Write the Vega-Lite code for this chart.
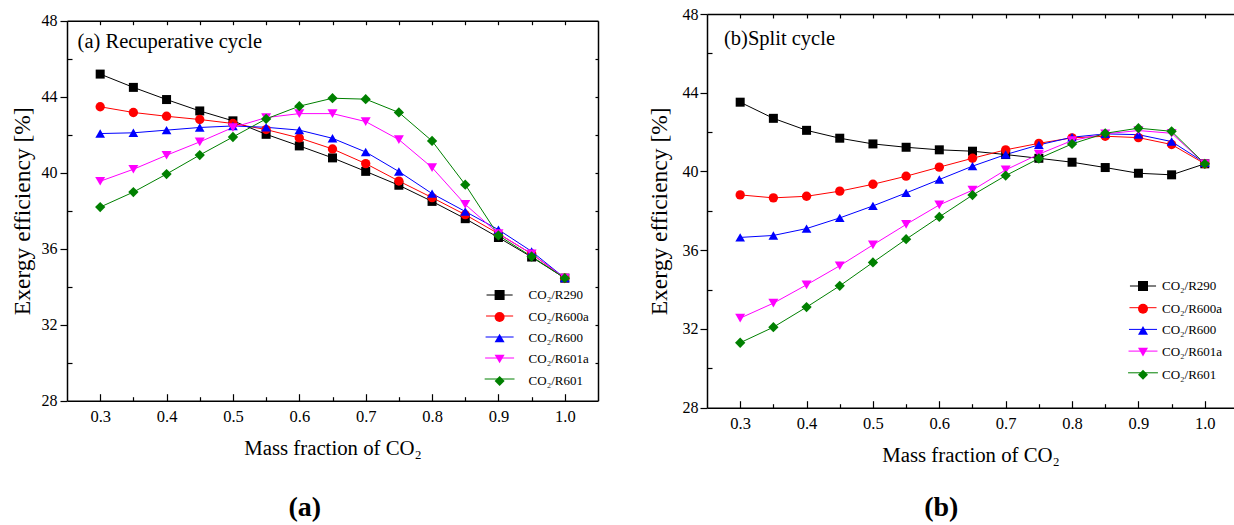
{
  "$schema": "https://vega.github.io/schema/vega-lite/v6.json",
  "background": "white",
  "padding": {"left": 10, "top": 6, "right": 0, "bottom": 0},
  "spacing": 48,
  "config": {
    "view": {"stroke": null},
    "font": "Liberation Serif",
    "axis": {"grid": false, "domainColor": "#000", "domainWidth": 1.5, "tickColor": "#000", "tickWidth": 1.2, "labelColor": "#000", "titleColor": "#000", "labelFont": "Liberation Serif", "titleFont": "Liberation Serif", "titleFontWeight": "normal", "labelFlush": false, "labelOverlap": false, "labelFontSize": 16, "titleFontSize": 20.8},
    "legend": {"labelFont": "Liberation Serif", "labelFontSize": 13, "labelColor": "#000", "labelLimit": 0}
  },
  "resolve": {"scale": {"stroke": "independent", "fill": "independent", "shape": "independent", "size": "independent"}, "legend": {"stroke": "independent", "fill": "independent", "shape": "independent"}},
  "datasets": {
    "d": [
      {"p": "a", "s": "CO₂/R290", "x": 0.3, "y": 45.19}, {"p": "a", "s": "CO₂/R290", "x": 0.35, "y": 44.49}, {"p": "a", "s": "CO₂/R290", "x": 0.4, "y": 43.85}, {"p": "a", "s": "CO₂/R290", "x": 0.45, "y": 43.25}, {"p": "a", "s": "CO₂/R290", "x": 0.5, "y": 42.73}, {"p": "a", "s": "CO₂/R290", "x": 0.55, "y": 42.02}, {"p": "a", "s": "CO₂/R290", "x": 0.6, "y": 41.41}, {"p": "a", "s": "CO₂/R290", "x": 0.65, "y": 40.78}, {"p": "a", "s": "CO₂/R290", "x": 0.7, "y": 40.07}, {"p": "a", "s": "CO₂/R290", "x": 0.75, "y": 39.34}, {"p": "a", "s": "CO₂/R290", "x": 0.8, "y": 38.49}, {"p": "a", "s": "CO₂/R290", "x": 0.85, "y": 37.58}, {"p": "a", "s": "CO₂/R290", "x": 0.9, "y": 36.59}, {"p": "a", "s": "CO₂/R290", "x": 0.95, "y": 35.56}, {"p": "a", "s": "CO₂/R290", "x": 1.0, "y": 34.45},
      {"p": "a", "s": "CO₂/R600a", "x": 0.3, "y": 43.47}, {"p": "a", "s": "CO₂/R600a", "x": 0.35, "y": 43.17}, {"p": "a", "s": "CO₂/R600a", "x": 0.4, "y": 42.97}, {"p": "a", "s": "CO₂/R600a", "x": 0.45, "y": 42.8}, {"p": "a", "s": "CO₂/R600a", "x": 0.5, "y": 42.59}, {"p": "a", "s": "CO₂/R600a", "x": 0.55, "y": 42.27}, {"p": "a", "s": "CO₂/R600a", "x": 0.6, "y": 41.83}, {"p": "a", "s": "CO₂/R600a", "x": 0.65, "y": 41.25}, {"p": "a", "s": "CO₂/R600a", "x": 0.7, "y": 40.48}, {"p": "a", "s": "CO₂/R600a", "x": 0.75, "y": 39.56}, {"p": "a", "s": "CO₂/R600a", "x": 0.8, "y": 38.69}, {"p": "a", "s": "CO₂/R600a", "x": 0.85, "y": 37.79}, {"p": "a", "s": "CO₂/R600a", "x": 0.9, "y": 36.79}, {"p": "a", "s": "CO₂/R600a", "x": 0.95, "y": 35.73}, {"p": "a", "s": "CO₂/R600a", "x": 1.0, "y": 34.45},
      {"p": "a", "s": "CO₂/R600", "x": 0.3, "y": 42.06}, {"p": "a", "s": "CO₂/R600", "x": 0.35, "y": 42.1}, {"p": "a", "s": "CO₂/R600", "x": 0.4, "y": 42.24}, {"p": "a", "s": "CO₂/R600", "x": 0.45, "y": 42.38}, {"p": "a", "s": "CO₂/R600", "x": 0.5, "y": 42.46}, {"p": "a", "s": "CO₂/R600", "x": 0.55, "y": 42.39}, {"p": "a", "s": "CO₂/R600", "x": 0.6, "y": 42.24}, {"p": "a", "s": "CO₂/R600", "x": 0.65, "y": 41.81}, {"p": "a", "s": "CO₂/R600", "x": 0.7, "y": 41.09}, {"p": "a", "s": "CO₂/R600", "x": 0.75, "y": 40.06}, {"p": "a", "s": "CO₂/R600", "x": 0.8, "y": 38.9}, {"p": "a", "s": "CO₂/R600", "x": 0.85, "y": 37.96}, {"p": "a", "s": "CO₂/R600", "x": 0.9, "y": 37.0}, {"p": "a", "s": "CO₂/R600", "x": 0.95, "y": 35.86}, {"p": "a", "s": "CO₂/R600", "x": 1.0, "y": 34.45},
      {"p": "a", "s": "CO₂/R601a", "x": 0.3, "y": 39.55}, {"p": "a", "s": "CO₂/R601a", "x": 0.35, "y": 40.18}, {"p": "a", "s": "CO₂/R601a", "x": 0.4, "y": 40.92}, {"p": "a", "s": "CO₂/R601a", "x": 0.45, "y": 41.62}, {"p": "a", "s": "CO₂/R601a", "x": 0.5, "y": 42.38}, {"p": "a", "s": "CO₂/R601a", "x": 0.55, "y": 42.9}, {"p": "a", "s": "CO₂/R601a", "x": 0.6, "y": 43.11}, {"p": "a", "s": "CO₂/R601a", "x": 0.65, "y": 43.11}, {"p": "a", "s": "CO₂/R601a", "x": 0.7, "y": 42.69}, {"p": "a", "s": "CO₂/R601a", "x": 0.75, "y": 41.74}, {"p": "a", "s": "CO₂/R601a", "x": 0.8, "y": 40.27}, {"p": "a", "s": "CO₂/R601a", "x": 0.85, "y": 38.33}, {"p": "a", "s": "CO₂/R601a", "x": 0.9, "y": 36.79}, {"p": "a", "s": "CO₂/R601a", "x": 0.95, "y": 35.73}, {"p": "a", "s": "CO₂/R601a", "x": 1.0, "y": 34.45},
      {"p": "a", "s": "CO₂/R601", "x": 0.3, "y": 38.19}, {"p": "a", "s": "CO₂/R601", "x": 0.35, "y": 38.98}, {"p": "a", "s": "CO₂/R601", "x": 0.4, "y": 39.93}, {"p": "a", "s": "CO₂/R601", "x": 0.45, "y": 40.93}, {"p": "a", "s": "CO₂/R601", "x": 0.5, "y": 41.88}, {"p": "a", "s": "CO₂/R601", "x": 0.55, "y": 42.83}, {"p": "a", "s": "CO₂/R601", "x": 0.6, "y": 43.5}, {"p": "a", "s": "CO₂/R601", "x": 0.65, "y": 43.92}, {"p": "a", "s": "CO₂/R601", "x": 0.7, "y": 43.87}, {"p": "a", "s": "CO₂/R601", "x": 0.75, "y": 43.17}, {"p": "a", "s": "CO₂/R601", "x": 0.8, "y": 41.67}, {"p": "a", "s": "CO₂/R601", "x": 0.85, "y": 39.37}, {"p": "a", "s": "CO₂/R601", "x": 0.9, "y": 36.7}, {"p": "a", "s": "CO₂/R601", "x": 0.95, "y": 35.59}, {"p": "a", "s": "CO₂/R601", "x": 1.0, "y": 34.45},
      {"p": "b", "s": "CO₂/R290", "x": 0.3, "y": 43.52}, {"p": "b", "s": "CO₂/R290", "x": 0.35, "y": 42.7}, {"p": "b", "s": "CO₂/R290", "x": 0.4, "y": 42.09}, {"p": "b", "s": "CO₂/R290", "x": 0.45, "y": 41.69}, {"p": "b", "s": "CO₂/R290", "x": 0.5, "y": 41.4}, {"p": "b", "s": "CO₂/R290", "x": 0.55, "y": 41.23}, {"p": "b", "s": "CO₂/R290", "x": 0.6, "y": 41.1}, {"p": "b", "s": "CO₂/R290", "x": 0.65, "y": 41.03}, {"p": "b", "s": "CO₂/R290", "x": 0.7, "y": 40.86}, {"p": "b", "s": "CO₂/R290", "x": 0.75, "y": 40.67}, {"p": "b", "s": "CO₂/R290", "x": 0.8, "y": 40.47}, {"p": "b", "s": "CO₂/R290", "x": 0.85, "y": 40.2}, {"p": "b", "s": "CO₂/R290", "x": 0.9, "y": 39.91}, {"p": "b", "s": "CO₂/R290", "x": 0.95, "y": 39.83}, {"p": "b", "s": "CO₂/R290", "x": 1.0, "y": 40.39},
      {"p": "b", "s": "CO₂/R600a", "x": 0.3, "y": 38.81}, {"p": "b", "s": "CO₂/R600a", "x": 0.35, "y": 38.66}, {"p": "b", "s": "CO₂/R600a", "x": 0.4, "y": 38.74}, {"p": "b", "s": "CO₂/R600a", "x": 0.45, "y": 39.0}, {"p": "b", "s": "CO₂/R600a", "x": 0.5, "y": 39.35}, {"p": "b", "s": "CO₂/R600a", "x": 0.55, "y": 39.76}, {"p": "b", "s": "CO₂/R600a", "x": 0.6, "y": 40.22}, {"p": "b", "s": "CO₂/R600a", "x": 0.65, "y": 40.67}, {"p": "b", "s": "CO₂/R600a", "x": 0.7, "y": 41.1}, {"p": "b", "s": "CO₂/R600a", "x": 0.75, "y": 41.43}, {"p": "b", "s": "CO₂/R600a", "x": 0.8, "y": 41.71}, {"p": "b", "s": "CO₂/R600a", "x": 0.85, "y": 41.79}, {"p": "b", "s": "CO₂/R600a", "x": 0.9, "y": 41.72}, {"p": "b", "s": "CO₂/R600a", "x": 0.95, "y": 41.37}, {"p": "b", "s": "CO₂/R600a", "x": 1.0, "y": 40.39},
      {"p": "b", "s": "CO₂/R600", "x": 0.3, "y": 36.65}, {"p": "b", "s": "CO₂/R600", "x": 0.35, "y": 36.75}, {"p": "b", "s": "CO₂/R600", "x": 0.4, "y": 37.1}, {"p": "b", "s": "CO₂/R600", "x": 0.45, "y": 37.64}, {"p": "b", "s": "CO₂/R600", "x": 0.5, "y": 38.25}, {"p": "b", "s": "CO₂/R600", "x": 0.55, "y": 38.91}, {"p": "b", "s": "CO₂/R600", "x": 0.6, "y": 39.59}, {"p": "b", "s": "CO₂/R600", "x": 0.65, "y": 40.27}, {"p": "b", "s": "CO₂/R600", "x": 0.7, "y": 40.86}, {"p": "b", "s": "CO₂/R600", "x": 0.75, "y": 41.35}, {"p": "b", "s": "CO₂/R600", "x": 0.8, "y": 41.74}, {"p": "b", "s": "CO₂/R600", "x": 0.85, "y": 41.91}, {"p": "b", "s": "CO₂/R600", "x": 0.9, "y": 41.87}, {"p": "b", "s": "CO₂/R600", "x": 0.95, "y": 41.52}, {"p": "b", "s": "CO₂/R600", "x": 1.0, "y": 40.44},
      {"p": "b", "s": "CO₂/R601a", "x": 0.3, "y": 32.55}, {"p": "b", "s": "CO₂/R601a", "x": 0.35, "y": 33.31}, {"p": "b", "s": "CO₂/R601a", "x": 0.4, "y": 34.24}, {"p": "b", "s": "CO₂/R601a", "x": 0.45, "y": 35.21}, {"p": "b", "s": "CO₂/R601a", "x": 0.5, "y": 36.27}, {"p": "b", "s": "CO₂/R601a", "x": 0.55, "y": 37.31}, {"p": "b", "s": "CO₂/R601a", "x": 0.6, "y": 38.3}, {"p": "b", "s": "CO₂/R601a", "x": 0.65, "y": 39.05}, {"p": "b", "s": "CO₂/R601a", "x": 0.7, "y": 40.08}, {"p": "b", "s": "CO₂/R601a", "x": 0.75, "y": 40.88}, {"p": "b", "s": "CO₂/R601a", "x": 0.8, "y": 41.57}, {"p": "b", "s": "CO₂/R601a", "x": 0.85, "y": 41.91}, {"p": "b", "s": "CO₂/R601a", "x": 0.9, "y": 42.08}, {"p": "b", "s": "CO₂/R601a", "x": 0.95, "y": 41.94}, {"p": "b", "s": "CO₂/R601a", "x": 1.0, "y": 40.39},
      {"p": "b", "s": "CO₂/R601", "x": 0.3, "y": 31.3}, {"p": "b", "s": "CO₂/R601", "x": 0.35, "y": 32.09}, {"p": "b", "s": "CO₂/R601", "x": 0.4, "y": 33.11}, {"p": "b", "s": "CO₂/R601", "x": 0.45, "y": 34.19}, {"p": "b", "s": "CO₂/R601", "x": 0.5, "y": 35.38}, {"p": "b", "s": "CO₂/R601", "x": 0.55, "y": 36.56}, {"p": "b", "s": "CO₂/R601", "x": 0.6, "y": 37.69}, {"p": "b", "s": "CO₂/R601", "x": 0.65, "y": 38.8}, {"p": "b", "s": "CO₂/R601", "x": 0.7, "y": 39.79}, {"p": "b", "s": "CO₂/R601", "x": 0.75, "y": 40.66}, {"p": "b", "s": "CO₂/R601", "x": 0.8, "y": 41.4}, {"p": "b", "s": "CO₂/R601", "x": 0.85, "y": 41.94}, {"p": "b", "s": "CO₂/R601", "x": 0.9, "y": 42.2}, {"p": "b", "s": "CO₂/R601", "x": 0.95, "y": 42.04}, {"p": "b", "s": "CO₂/R601", "x": 1.0, "y": 40.39}
    ]
  },
  "hconcat": [
    {
      "width": 531,
      "height": 386.7,
      "title": {"text": "(a)", "orient": "bottom", "anchor": "middle", "frame": "group", "dx": -27.7, "offset": 35, "fontSize": 28, "fontWeight": "bold", "font": "Liberation Serif", "color": "#000"},
      "data": {"name": "d"},
      "transform": [{"filter": "datum.p == 'a'"}],
      "resolve": {"axis": {"x": "independent", "y": "independent"}},
      "layer": [
        {
          "mark": {"type": "line", "strokeWidth": 1},
          "encoding": {
            "x": {"field": "x", "type": "quantitative", "scale": {"domain": [0.25, 1.05], "nice": false, "zero": false},
                  "axis": {"orient": "bottom", "values": [0.3, 0.4, 0.5, 0.6, 0.7, 0.8, 0.9, 1.0], "format": ".1f", "ticks": false, "tickSize": 0, "labelPadding": 7.5, "labelFontSize": 16.5, "title": "Mass fraction of CO₂", "titlePadding": 14}},
            "y": {"field": "y", "type": "quantitative", "scale": {"domain": [28, 48], "range": [386.7, 6.7], "nice": false, "zero": false},
                  "axis": {"orient": "left", "values": [28, 32, 36, 40, 44, 48], "format": "d", "ticks": false, "tickSize": 0, "labelPadding": 10, "title": "Exergy efficiency [%]", "titleFontSize": 23.5, "titlePadding": 7}},
            "stroke": {"field": "s", "type": "nominal",
                       "scale": {"domain": ["CO₂/R290", "CO₂/R600a", "CO₂/R600", "CO₂/R601a", "CO₂/R601"], "range": ["#000000", "#FF0000", "#0000FF", "#FF00FF", "#008000"]},
                       "legend": {"orient": "none", "legendX": 426.1, "legendY": 274.5, "title": null, "padding": 0, "rowPadding": 7, "labelOffset": 22.5, "symbolSize": 100, "symbolStrokeWidth": 1, "symbolType": "M-2.9,0H2.9", "labelOpacity": 0}}
          }
        },
        {
          "mark": {"type": "point", "filled": true, "opacity": 1},
          "encoding": {
            "x": {"field": "x", "type": "quantitative", "axis": {"orient": "bottom", "values": [0.3, 0.4, 0.5, 0.6, 0.7, 0.8, 0.9, 1.0], "labels": false, "domain": false, "title": null, "tickSize": -7}},
            "y": {"field": "y", "type": "quantitative", "axis": {"orient": "left", "values": [28, 32, 36, 40, 44, 48], "labels": false, "domain": false, "title": null, "tickSize": 7}},
            "fill": {"field": "s", "type": "nominal", "sort": null, "scale": {"range": ["#000000", "#FF0000", "#0000FF", "#FF00FF", "#008000"]},
                     "legend": {"orient": "none", "legendX": 426.1, "legendY": 274.5, "title": null, "padding": 0, "rowPadding": 7, "labelOffset": 22.5, "symbolSize": 100, "symbolStrokeWidth": 1}},
            "shape": {"field": "s", "type": "nominal", "sort": null, "scale": {"range": ["square", "circle", "triangle-up", "triangle-down", "diamond"]},
                      "legend": {"orient": "none", "legendX": 426.1, "legendY": 274.5, "title": null, "padding": 0, "rowPadding": 7, "labelOffset": 22.5, "symbolSize": 100, "symbolStrokeWidth": 1}},
            "size": {"field": "s", "type": "ordinal", "sort": ["CO₂/R290", "CO₂/R600a", "CO₂/R600", "CO₂/R601a", "CO₂/R601"], "scale": {"domain": ["CO₂/R290", "CO₂/R600a", "CO₂/R600", "CO₂/R601a", "CO₂/R601"], "range": [81, 106, 128, 128, 137]}, "legend": null}
          }
        },
        {
          "data": {"values": [{}]},
          "mark": {"type": "text", "text": ""},
          "encoding": {
            "x": {"datum": 0.5, "type": "quantitative", "axis": {"orient": "bottom", "values": [0.35, 0.45, 0.55, 0.65, 0.75, 0.85, 0.95], "labels": false, "domain": false, "title": null, "tickSize": -4}},
            "y": {"datum": 40, "type": "quantitative", "axis": {"orient": "left", "values": [30, 34, 38, 42, 46], "labels": false, "domain": false, "title": null, "tickSize": -5}}
          }
        },
        {
          "data": {"values": [{}]},
          "mark": {"type": "text", "text": "(a) Recuperative cycle", "align": "left", "baseline": "alphabetic", "fontSize": 20.5, "font": "Liberation Serif", "color": "#000"},
          "encoding": {
            "x": {"datum": 0.266, "type": "quantitative", "axis": {"orient": "top", "values": [0.3, 0.35, 0.4, 0.45, 0.5, 0.55, 0.6, 0.65, 0.7, 0.75, 0.8, 0.85, 0.9, 0.95, 1.0], "labels": false, "title": null, "tickSize": -4, "offset": -6.7}},
            "y": {"datum": 46.55, "type": "quantitative", "axis": {"orient": "right", "values": [30, 32, 34, 36, 38, 40, 42, 44, 46], "labels": false, "title": null, "tickSize": -3}}
          }
        }
      ]
    },
    {
      "width": 527,
      "height": 393.7,
      "title": {"text": "(b)", "orient": "bottom", "anchor": "middle", "frame": "group", "dx": -29.2, "offset": 28, "fontSize": 28, "fontWeight": "bold", "font": "Liberation Serif", "color": "#000"},
      "data": {"name": "d"},
      "transform": [{"filter": "datum.p == 'b'"}],
      "resolve": {"axis": {"x": "independent", "y": "independent"}},
      "layer": [
        {
          "mark": {"type": "line", "strokeWidth": 1},
          "encoding": {
            "x": {"field": "x", "type": "quantitative", "scale": {"domain": [0.25, 1.044], "nice": false, "zero": false},
                  "axis": {"orient": "bottom", "values": [0.3, 0.4, 0.5, 0.6, 0.7, 0.8, 0.9, 1.0], "format": ".1f", "ticks": false, "tickSize": 0, "labelPadding": 7.5, "labelFontSize": 16.5, "title": "Mass fraction of CO₂", "titlePadding": 14}},
            "y": {"field": "y", "type": "quantitative", "scale": {"domain": [28, 48], "nice": false, "zero": false},
                  "axis": {"orient": "left", "values": [28, 32, 36, 40, 44, 48], "format": "d", "ticks": false, "tickSize": 0, "labelPadding": 9, "title": "Exergy efficiency [%]", "titleFontSize": 23.5, "titlePadding": 10.5}},
            "stroke": {"field": "s", "type": "nominal",
                       "scale": {"domain": ["CO₂/R290", "CO₂/R600a", "CO₂/R600", "CO₂/R601a", "CO₂/R601"], "range": ["#000000", "#FF0000", "#0000FF", "#FF00FF", "#008000"]},
                       "legend": {"orient": "none", "legendX": 429.5, "legendY": 265.5, "title": null, "padding": 0, "rowPadding": 7.7, "labelOffset": 12.5, "symbolSize": 100, "symbolStrokeWidth": 1, "symbolType": "M-2.9,0H2.9", "labelOpacity": 0}}
          }
        },
        {
          "mark": {"type": "point", "filled": true, "opacity": 1},
          "encoding": {
            "x": {"field": "x", "type": "quantitative", "axis": {"orient": "bottom", "values": [0.3, 0.4, 0.5, 0.6, 0.7, 0.8, 0.9, 1.0], "labels": false, "domain": false, "title": null, "tickSize": -7}},
            "y": {"field": "y", "type": "quantitative", "axis": {"orient": "left", "values": [28, 32, 36, 40, 44, 48], "labels": false, "domain": false, "title": null, "tickSize": 7}},
            "fill": {"field": "s", "type": "nominal", "sort": null, "scale": {"range": ["#000000", "#FF0000", "#0000FF", "#FF00FF", "#008000"]},
                     "legend": {"orient": "none", "legendX": 429.5, "legendY": 265.5, "title": null, "padding": 0, "rowPadding": 7.7, "labelOffset": 12.5, "symbolSize": 100, "symbolStrokeWidth": 1}},
            "shape": {"field": "s", "type": "nominal", "sort": null, "scale": {"range": ["square", "circle", "triangle-up", "triangle-down", "diamond"]},
                      "legend": {"orient": "none", "legendX": 429.5, "legendY": 265.5, "title": null, "padding": 0, "rowPadding": 7.7, "labelOffset": 12.5, "symbolSize": 100, "symbolStrokeWidth": 1}},
            "size": {"field": "s", "type": "ordinal", "sort": ["CO₂/R290", "CO₂/R600a", "CO₂/R600", "CO₂/R601a", "CO₂/R601"], "scale": {"domain": ["CO₂/R290", "CO₂/R600a", "CO₂/R600", "CO₂/R601a", "CO₂/R601"], "range": [81, 106, 128, 128, 137]}, "legend": null}
          }
        },
        {
          "data": {"values": [{}]},
          "mark": {"type": "text", "text": ""},
          "encoding": {
            "x": {"datum": 0.5, "type": "quantitative", "axis": {"orient": "bottom", "values": [0.35, 0.45, 0.55, 0.65, 0.75, 0.85, 0.95], "labels": false, "domain": false, "title": null, "tickSize": -4}},
            "y": {"datum": 40, "type": "quantitative", "axis": {"orient": "left", "values": [30, 34, 38, 42, 46], "labels": false, "domain": false, "title": null, "tickSize": -5}}
          }
        },
        {
          "data": {"values": [{}]},
          "mark": {"type": "text", "text": "(b)Split cycle", "align": "left", "baseline": "alphabetic", "fontSize": 20.5, "font": "Liberation Serif", "color": "#000"},
          "encoding": {
            "x": {"datum": 0.2756, "type": "quantitative", "axis": {"orient": "top", "values": [0.3, 0.35, 0.4, 0.45, 0.5, 0.55, 0.6, 0.65, 0.7, 0.75, 0.8, 0.85, 0.9, 0.95, 1.0], "labels": false, "title": null, "tickSize": -4}},
            "y": {"datum": 46.425, "type": "quantitative", "axis": null}
          }
        }
      ]
    }
  ]
}
